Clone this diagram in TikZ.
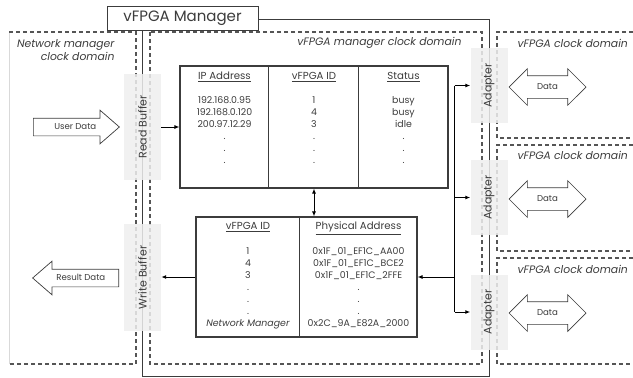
\documentclass[tikz,border=0pt]{standalone}
\usepackage{fontspec}
\setmainfont{Poppins}
\usepackage{tikz}
\usetikzlibrary{arrows.meta,positioning,calc,shapes.arrows}
\definecolor{ink}{RGB}{60,60,60}
\definecolor{bufgray}{RGB}{238,238,238}
\definecolor{domline}{RGB}{85,85,85}
\newcommand{\colhead}[1]{{\fontsize{10.2}{12}\selectfont\underline{#1}}}

\begin{document}
\begin{tikzpicture}[x=1pt, y=-1pt, every node/.style={font=\fontsize{8.6}{12}\selectfont, text=ink},
  clockdom/.style={draw=domline, line width=1.2pt, dash pattern=on 4pt off 3pt},
  domtext/.style={font=\itshape\fontsize{10.8}{13}\selectfont},
  buffer/.style={fill=bufgray, fill opacity=0.85, text opacity=1, minimum width=37pt, inner sep=0pt,
    font=\fontsize{11}{13}\selectfont},
  tbl/.style={draw=ink, line width=1.1pt, inner sep=0pt},
  col/.style={anchor=north, align=center, inner sep=0pt, font=\fontsize{9.4}{12}\selectfont},
  fat/.style={draw=ink, line width=0.7pt, fill=white, text height=6pt, text depth=2pt,
    font=\fontsize{8.6}{10}\selectfont},
  link/.style={draw=black, line width=1pt, -{Latex[length=5pt,width=4pt]}}]
\useasboundingbox (0,0) rectangle (633,378);
% ---- manager frame and clock domains
\draw[ink, line width=0.9pt] (142,19) rectangle (489,376);
\draw[black!15, line width=0.6pt] (9,32) -- (9,364);
\draw[clockdom] (9,32) -- (136,32) -- (136,364) -- (9,364);
\draw[clockdom] (150,32) rectangle (482,364);
\draw[clockdom] (633,32) -- (497,32) -- (497,138) -- (633,138);
\draw[clockdom] (633,145) -- (497,145) -- (497,251) -- (633,251);
\draw[clockdom] (633,258) -- (497,258) -- (497,364) -- (633,364);
\node[draw=ink, line width=0.9pt, fill=white, minimum width=151pt, minimum height=24pt,
  font=\fontsize{15}{17}\selectfont] (mgr) at (182.5,18) {vFPGA Manager};
\node[domtext, anchor=north east, align=right] (nmdom) at (118,36) {Network manager\\clock domain};
\node[domtext, anchor=east] (vmdom) at (465,43) {vFPGA manager clock domain};
\foreach \y/\n in {43/1,155/2,269/3}
  \node[domtext, anchor=west] (vdom\n) at (514,\y) {vFPGA clock domain};
% ---- buffers and adapters
\node[buffer, minimum height=106pt] (rbuf) at (142.5,127) {\rotatebox{90}{Read Buffer}};
\node[buffer, minimum height=107pt] (wbuf) at (142.5,277.5) {\rotatebox{90}{Write Buffer}};
\foreach \y/\n in {85.5/1,197.5/2,312/3}
  \node[buffer, minimum height=75pt] (ad\n) at (489,\y) {\rotatebox{90}{Adapter}};
% ---- lookup tables
\node[tbl, minimum width=268pt, minimum height=122pt] (iptab) at (314,127) {};
\draw[ink, line width=1.1pt] ($(iptab.north west)+(89,0)$) -- ($(iptab.south west)+(89,0)$);
\draw[ink, line width=1.1pt] ($(iptab.north west)+(179,0)$) -- ($(iptab.south west)+(179,0)$);
\node[col] (ipcol) at (224.5,72) {\colhead{IP Address}\\[12pt]192.168.0.95\\192.168.0.120\\200.97.12.29\\.\\.\\.};
\node[col] (idcol) at (314,72) {\colhead{vFPGA ID}\\[12pt]1\\4\\3\\.\\.\\.};
\node[col] (stcol) at (403.5,72) {\colhead{Status}\\[12pt]busy\\busy\\idle\\.\\.\\.};
\node[tbl, minimum width=221pt, minimum height=120pt] (mactab) at (306.5,277) {};
\draw[ink, line width=1.1pt] ($(mactab.north west)+(104,0)$) -- ($(mactab.south west)+(104,0)$);
\node[col] (vidcol) at (248,222) {\colhead{vFPGA ID}\\[13pt]1\\4\\3\\.\\.\\.\\\textit{Network Manager}};
\node[col] (pacol) at (358.5,222) {\colhead{Physical Address}\\[13pt]0x1F\_01\_EF1C\_AA00\\0x1F\_01\_EF1C\_BCE2\\
  0x1F\_01\_EF1C\_2FFE\\.\\.\\.\\0x2C\_9A\_E82A\_2000};
% ---- connectors
\draw[link] (rbuf.east) -- (iptab.west);
\draw[link] (mactab.west) -- (mactab.west -| wbuf.east);
\draw[link, {Latex[length=5pt,width=4pt]}-{Latex[length=5pt,width=4pt]}] (iptab.south) -- (iptab.south |- mactab.north);
\coordinate (bus) at ($(mactab.east)+(37,0)$);
\draw[black, line width=1pt] (bus |- ad1.west) -- (bus |- ad3.west);
\draw[link] (bus) -- (mactab.east);
\foreach \n in {1,2,3}
  \draw[link] (bus |- ad\n.west) -- (ad\n.west);
% ---- data arrows
\node[fat, single arrow, minimum height=86pt, single arrow head extend=8pt, single arrow tip angle=82,
  inner sep=4.5pt, anchor=tail] (udata) at (33,127) {\hspace{8pt}User Data};
\node[fat, single arrow, shape border rotate=180, minimum height=86pt, single arrow head extend=8pt,
  single arrow tip angle=82, inner sep=4.5pt, anchor=tail] (rdata) at (119,278) {Result Data\hspace{8pt}};
\foreach \y/\n in {87/1,199/2,313/3}
  \node[fat, double arrow, minimum height=77pt, double arrow head extend=7pt, double arrow tip angle=90,
    inner ysep=7pt, inner xsep=2pt] (data\n) at (547.5,\y) {Data};
\end{tikzpicture}
\end{document}
